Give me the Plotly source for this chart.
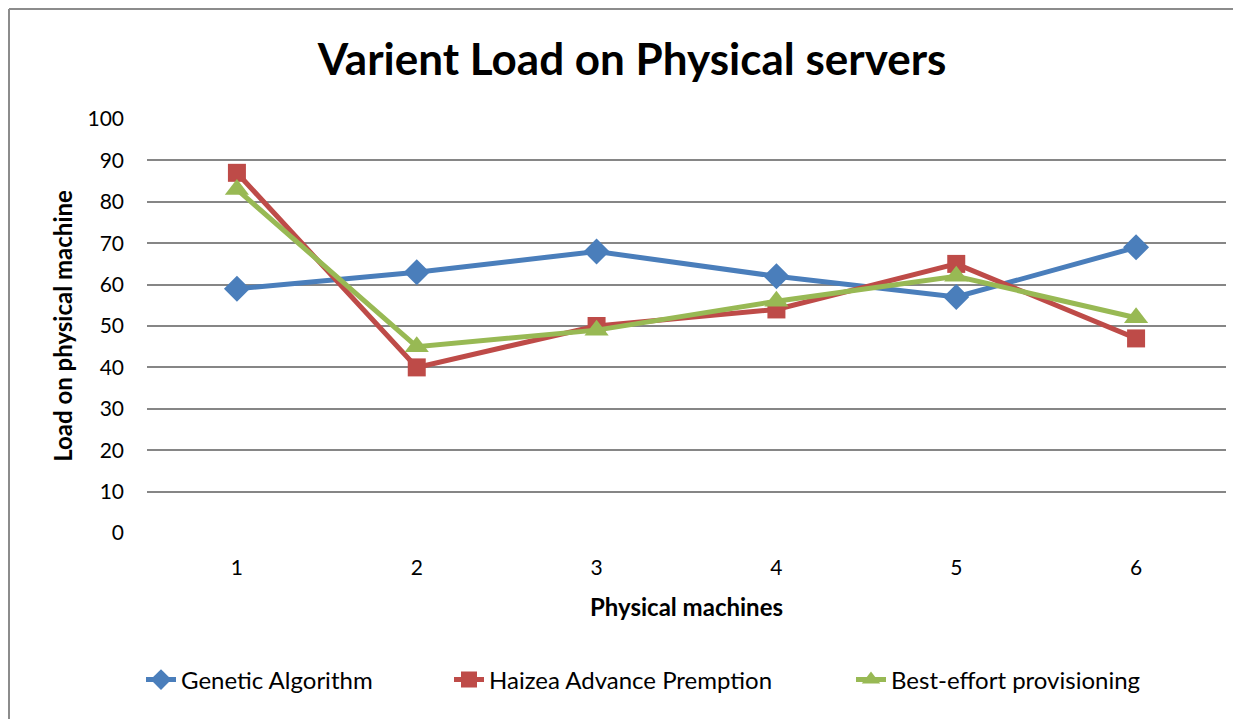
import plotly.graph_objects as go

categories = ["1", "2", "3", "4", "5", "6"]
genetic = [59, 63, 68, 62, 57, 69]
haizea = [87, 40, 50, 54, 65, 47]
best_effort = [83, 45, 49, 56, 62, 52]
y_ticks = list(range(0, 101, 10))

OFF = 8  # browser default body margin
W, H = 1241 - OFF, 719 - OFF
L, T = 147 - OFF, 119 - OFF
R = W - (1226 - OFF)
B = H - (533 - OFF)
pw, ph = W - L - R, H - T - B

def px_x(x):
    return (x - OFF - L) / pw

def px_y(y):
    return (H - B - (y - OFF)) / ph

FONT = "Lato"

fig = go.Figure()
fig.add_trace(go.Scatter(x=categories, y=genetic, name="Genetic Algorithm", mode="lines+markers",
                         line=dict(color="#4A7EBB", width=5), legend="legend",
                         marker=dict(symbol="diamond", size=20, color="#4A7EBB")))
fig.add_trace(go.Scatter(x=categories, y=haizea, name="Haizea Advance Premption", mode="lines+markers",
                         line=dict(color="#BE4B48", width=5), legend="legend2",
                         marker=dict(symbol="square", size=18, color="#BE4B48")))
fig.add_trace(go.Scatter(x=categories, y=best_effort, name="Best-effort provisioning", mode="lines+markers",
                         line=dict(color="#98B954", width=5), legend="legend3",
                         marker=dict(symbol="triangle-up", size=21, color="#98B954")))

def leg(text_start):
    return dict(orientation="h", x=px_x(text_start - 42), xanchor="left", y=px_y(680), yanchor="middle",
                font=dict(size=24, family=FONT, color="black"), bgcolor="rgba(0,0,0,0)")

fig.update_layout(
    width=W, height=H,
    margin=dict(l=L, r=R, t=T, b=B),
    paper_bgcolor="white", plot_bgcolor="white",
    font=dict(family=FONT, color="black"),
    title=dict(text="<b>Varient Load on Physical servers</b>", x=(632 - OFF) / W, xanchor="center",
               y=(H - (60 - OFF)) / H, yanchor="middle", font=dict(size=44, family=FONT, color="black")),
    xaxis=dict(type="category", range=[-0.5, 5.5], showgrid=False, showline=False, zeroline=False,
               ticks="", tickfont=dict(size=21, family=FONT), ticklabelstandoff=20,
               title=dict(text="<b>Physical machines</b>", font=dict(size=24, family=FONT), standoff=21)),
    yaxis=dict(range=[0, 100], tickvals=y_ticks, showgrid=True, gridcolor="#868686", gridwidth=1.5,
               zeroline=False, showline=False, ticks="", tickfont=dict(size=21, family=FONT),
               ticklabelstandoff=22,
               title=dict(text="<b>Load on physical machine</b>", font=dict(size=24, family=FONT), standoff=8)),
    legend=leg(183),
    legend2=leg(491),
    legend3=leg(893),
    showlegend=True,
)

# outer chart border (left and top edges visible)
bx = (1 - L) / pw
by = (H - 1 - B) / ph
fig.add_shape(type="line", xref="paper", yref="paper", x0=bx, x1=bx, y0=by, y1=-(B + 50) / ph,
              line=dict(color="#8C8C8C", width=2), layer="below")
fig.add_shape(type="line", xref="paper", yref="paper", x0=bx, x1=(W + 50 - L) / pw, y0=by, y1=by,
              line=dict(color="#8C8C8C", width=2), layer="below")

fig.write_html("out.html")
